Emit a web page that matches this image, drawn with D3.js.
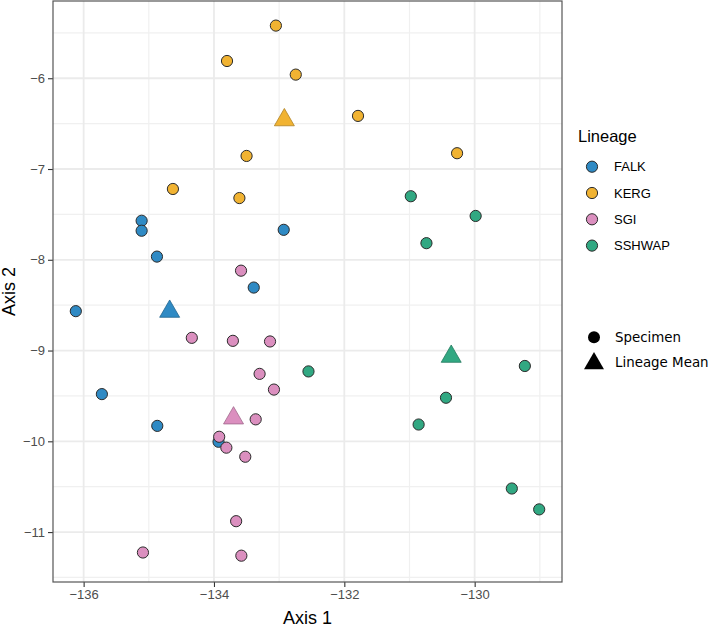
<!DOCTYPE html>
<html><head><meta charset="utf-8">
<script src="https://cdn.jsdelivr.net/npm/d3@7"></script>
<style>body{margin:0;background:#fff}</style>
</head><body>
<svg id="c" width="709" height="627"></svg>
<script>
const lineages = ["FALK","KERG","SGI","SSHWAP"];
const colors = ["#2F8AC4","#F1B332","#DB8FBF","#31A882"];
const xTicks = [-136,-134,-132,-130];
const yTicks = [-11,-10,-9,-8,-7,-6];
// specimens: [axis1, axis2]
const falk = [[-135.11,-7.57],[-135.11,-7.68],[-134.875,-7.965],[-132.93,-7.67],[-133.39,-8.306],[-136.12,-8.566],[-135.72,-9.48],[-134.87,-9.83],[-133.93,-10.005]];
const kerg = [[-133.05,-5.42],[-133.80,-5.81],[-132.745,-5.96],[-131.79,-6.415],[-133.50,-6.856],[-130.27,-6.826],[-134.63,-7.22],[-133.61,-7.32]];
const sgi = [[-133.585,-8.12],[-134.34,-8.86],[-133.71,-8.893],[-133.14,-8.90],[-133.30,-9.257],[-133.08,-9.43],[-133.36,-9.758],[-133.92,-9.95],[-133.81,-10.07],[-133.52,-10.17],[-133.66,-10.88],[-135.09,-11.225],[-133.58,-11.26]];
const sshwap = [[-130.98,-7.30],[-129.985,-7.517],[-130.74,-7.817],[-132.55,-9.23],[-129.23,-9.17],[-130.44,-9.52],[-130.86,-9.815],[-129.43,-10.52],[-129.01,-10.75]];
const means = [[-134.68,-8.57],[-132.92,-6.46],[-133.70,-9.745],[-130.36,-9.066]];
const shapeLabels = ["Specimen","Lineage Mean"];

const svg = d3.select("#c");
const L=53, R=562, T=1, B=582;
const x = d3.scaleLinear().domain([-136.47,-128.66]).range([L,R]);
const y = d3.scaleLinear().domain([-11.55,-5.149]).range([B,T]);
const col = d3.scaleOrdinal().domain(lineages).range(colors);

const g = svg.append("g");
const xMinor = d3.range(-136,-128,1).filter(v=>!xTicks.includes(v));
const yMinor = d3.range(-11.5,-5,0.5).filter(v=>!yTicks.includes(v));
g.selectAll(".xm").data(xMinor).join("line").attr("x1",d=>x(d)).attr("x2",d=>x(d)).attr("y1",T).attr("y2",B).attr("stroke","#f0f0f0").attr("stroke-width",1.2);
g.selectAll(".ym").data(yMinor).join("line").attr("y1",d=>y(d)).attr("y2",d=>y(d)).attr("x1",L).attr("x2",R).attr("stroke","#f0f0f0").attr("stroke-width",1.2);
g.selectAll(".xM").data(xTicks).join("line").attr("x1",d=>x(d)).attr("x2",d=>x(d)).attr("y1",T).attr("y2",B).attr("stroke","#ebebeb").attr("stroke-width",1.8);
g.selectAll(".yM").data(yTicks).join("line").attr("y1",d=>y(d)).attr("y2",d=>y(d)).attr("x1",L).attr("x2",R).attr("stroke","#ebebeb").attr("stroke-width",1.8);

const xa = svg.append("g").attr("transform",`translate(0,${B})`).call(d3.axisBottom(x).tickValues(xTicks).tickSize(5).tickPadding(3).tickFormat(d=>"\u2212"+Math.abs(d)));
const ya = svg.append("g").attr("transform",`translate(${L},0)`).call(d3.axisLeft(y).tickValues(yTicks).tickSize(5).tickPadding(3).tickFormat(d=>"\u2212"+Math.abs(d)));
[xa,ya].forEach(a=>{a.select(".domain").remove();a.selectAll("line").attr("stroke","#333").attr("stroke-width",1.1);
  a.selectAll("text").attr("fill","#4d4d4d").style("font-family","Liberation Sans, Arial, sans-serif").style("font-size","13px");});

const groups=[falk,kerg,sgi,sshwap];
const pts=[];
groups.forEach((arr,i)=>arr.forEach(p=>pts.push({l:lineages[i],x:p[0],y:p[1]})));
svg.append("g").selectAll("circle").data(pts).join("circle")
 .attr("cx",d=>x(d.x)).attr("cy",d=>y(d.y)).attr("r",5.6)
 .attr("fill",d=>col(d.l)).attr("stroke","#2b2b2b").attr("stroke-width",1);
const tri=d3.symbol().type(d3.symbolTriangle).size(173);
svg.append("g").selectAll("path").data(means.map((m,i)=>({l:lineages[i],x:m[0],y:m[1]}))).join("path")
 .attr("d",tri).attr("transform",d=>`translate(${x(d.x)},${y(d.y)})`)
 .attr("fill",d=>col(d.l)).attr("stroke",d=>d3.color(col(d.l)).darker(0.9)).attr("stroke-width",0.8);

svg.append("rect").attr("x",L).attr("y",T).attr("width",R-L).attr("height",B-T).attr("fill","none").attr("stroke","#555").attr("stroke-width",1.2);

svg.append("text").attr("x",(L+R)/2).attr("y",624).attr("text-anchor","middle").attr("font-family","Liberation Sans, Arial, sans-serif").attr("font-size","18px").attr("fill","#000").text("Axis 1");
svg.append("text").attr("transform",`translate(15,${(T+B)/2}) rotate(-90)`).attr("text-anchor","middle").attr("font-family","Liberation Sans, Arial, sans-serif").attr("font-size","18px").attr("fill","#000").text("Axis 2");

const lg=svg.append("g");
lg.append("text").attr("x",578).attr("y",142).attr("font-family","Liberation Sans, Arial, sans-serif").attr("font-size","16.5px").text("Lineage");
lineages.forEach((l,i)=>{
  const yy=166.7+i*26.3;
  lg.append("circle").attr("cx",592).attr("cy",yy).attr("r",5.6).attr("fill",col(l)).attr("stroke","#2b2b2b").attr("stroke-width",1);
  lg.append("text").attr("x",614).attr("y",yy+4.6).attr("font-family","Liberation Sans, Arial, sans-serif").attr("font-size","13px").text(l);
});
const sg=svg.append("g");
sg.append("circle").attr("cx",594).attr("cy",337.3).attr("r",6).attr("fill","#000");
sg.append("path").attr("d",tri).attr("transform","translate(594,363.5)").attr("fill","#000");
shapeLabels.forEach((s,i)=>{
  sg.append("text").attr("x",615).attr("y",[342,366.5][i]).attr("font-family","DejaVu Sans, Verdana, sans-serif").attr("font-size","13.4px").text(s);
});
</script>
</body></html>
